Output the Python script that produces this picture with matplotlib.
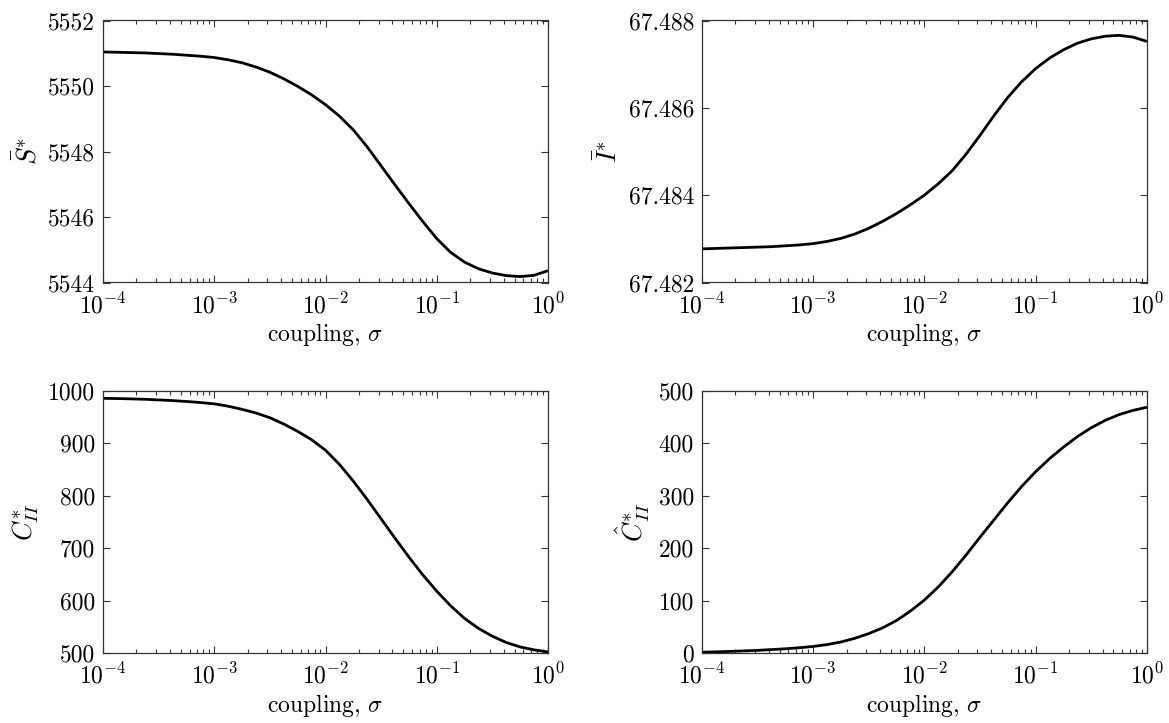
import numpy as np
import matplotlib
matplotlib.use("Agg")
import matplotlib.pyplot as plt
from matplotlib.ticker import LogLocator, NullFormatter, FixedLocator

plt.rcParams['font.family'] = 'serif'
plt.rcParams['font.serif'] = ['cmr10']
plt.rcParams['mathtext.fontset'] = 'cm'
plt.rcParams['axes.formatter.use_mathtext'] = True
plt.rcParams['axes.unicode_minus'] = False

# coupling values (log10 sigma from -4 to 0, step 0.125)
log_sigma = [-4.0, -3.875, -3.75, -3.625, -3.5, -3.375, -3.25, -3.125,
             -3.0, -2.875, -2.75, -2.625, -2.5, -2.375, -2.25, -2.125,
             -2.0, -1.875, -1.75, -1.625, -1.5, -1.375, -1.25, -1.125,
             -1.0, -0.875, -0.75, -0.625, -0.5, -0.375, -0.25, -0.125, 0.0]
sigma = [10.0 ** v for v in log_sigma]

S_bar = [5551.04, 5551.03, 5551.02, 5551.01, 5550.99, 5550.97, 5550.94, 5550.91,
         5550.87, 5550.80, 5550.71, 5550.58, 5550.42, 5550.22, 5549.99, 5549.73,
         5549.43, 5549.08, 5548.66, 5548.14, 5547.56, 5546.98, 5546.41, 5545.86,
         5545.34, 5544.92, 5544.62, 5544.42, 5544.29, 5544.21, 5544.18, 5544.22, 5544.36]
I_bar = [67.48277, 67.48278, 67.48279, 67.48280, 67.48281, 67.48282, 67.48284, 67.48286,
         67.48289, 67.48294, 67.48301, 67.48311, 67.48324, 67.48340, 67.48358, 67.48378,
         67.48400, 67.48426, 67.48456, 67.48494, 67.48537, 67.48582, 67.48624, 67.48660,
         67.48690, 67.48714, 67.48733, 67.48748, 67.48758, 67.48764, 67.48766, 67.48762, 67.48752]
C_II = [986, 985.6, 985, 984.2, 983, 981.7, 980, 978,
        975.5, 971, 965, 958, 949, 937, 923, 907,
        887, 860, 828, 793, 756, 719, 683, 649,
        618, 590, 566, 547, 532, 520, 511.5, 506, 502]
C_hat_II = [1.5, 2.2, 3, 4, 5, 6.5, 8, 10,
            12.5, 16, 21, 28, 37, 48, 62, 80,
            101, 126, 155, 187, 221, 254, 287, 318,
            346, 371, 393, 413, 430, 444, 455, 463, 469]

panels = [
    (S_bar, r'$\bar{S}^{*}$', [5544, 5546, 5548, 5550, 5552], ['5544', '5546', '5548', '5550', '5552']),
    (I_bar, r'$\bar{I}^{*}$', [67.482, 67.484, 67.486, 67.488], ['67.482', '67.484', '67.486', '67.488']),
    (C_II, r'$C^{*}_{II}$', [500, 600, 700, 800, 900, 1000], ['500', '600', '700', '800', '900', '1000']),
    (C_hat_II, r'$\hat{C}^{*}_{II}$', [0, 100, 200, 300, 400, 500], ['0', '100', '200', '300', '400', '500']),
]

W, H = 1169, 723
fig = plt.figure(figsize=(W / 100, H / 100), dpi=100)
lefts = [103, 701.7]
widths = [445, 445.3]
tops = [20.5, 391]
height = 262

for i, (vals, ylab, yt, ytl) in enumerate(panels):
    r, c = divmod(i, 2)
    l = lefts[c] / W
    b = 1 - (tops[r] + height) / H
    ax = fig.add_axes([l, b, widths[c] / W, height / H])
    ax.plot(sigma, vals, color='black', lw=2.0, solid_capstyle='butt',
            solid_joinstyle='round')
    ax.set_xscale('log')
    ax.set_xlim(1e-4, 1)
    ax.set_ylim(yt[0], yt[-1])
    ax.yaxis.set_major_locator(FixedLocator(yt))
    ax.set_yticklabels(ytl)
    ax.xaxis.set_major_locator(LogLocator(base=10, numticks=10))
    ax.xaxis.set_minor_locator(LogLocator(base=10, subs=np.arange(2, 10), numticks=20))
    ax.xaxis.set_minor_formatter(NullFormatter())
    ax.tick_params(which='both', direction='in', top=True, right=True,
                   labelsize=17, width=0.8, color='#333333')
    ax.tick_params(which='major', length=5)
    ax.tick_params(axis='x', which='major', pad=7.5)
    ax.tick_params(axis='y', which='major', pad=5.5)
    ax.tick_params(which='minor', length=3)
    for sp in ax.spines.values():
        sp.set_linewidth(0.9)
        sp.set_color('#333333')
    ax.set_xlabel(r'coupling, $\sigma$', fontsize=17, labelpad=2)
    ax.set_ylabel(ylab, fontsize=19, labelpad=5)

fig.savefig('out.png', dpi=100)
